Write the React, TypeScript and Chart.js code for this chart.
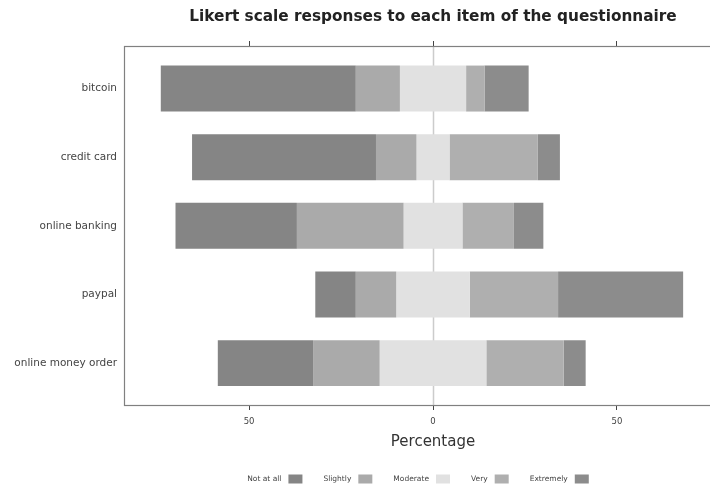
import React, { useEffect, useRef } from "react";
import { Chart, registerables } from "chart.js";

Chart.register(...registerables);

const categories = ["bitcoin", "credit card", "online banking", "paypal", "online money order"];
const levels = ["Not at all", "Slightly", "Moderate", "Very", "Extremely"];
const notAtAll = [53, 50, 33, 11, 26];
const slightly = [12, 11, 29, 11, 18];
const moderate = [18, 9, 16, 20, 29];
const very = [5, 24, 14, 24, 21];
const extremely = [12, 6, 8, 34, 6];
const xTicks = [-50, 0, 50];
const levelColors = ["#858585", "#aaaaaa", "#e1e1e1", "#afafaf", "#8c8c8c"];

const TITLE = "Likert scale responses to each item of the questionnaire";
const XLABEL = "Percentage";
const FONT = "'DejaVu Sans', 'Liberation Sans', sans-serif";

// diverging layout: the "Moderate" block is centred on zero
function buildSegments() {
  const series = [notAtAll, slightly, moderate, very, extremely];
  return series.map((_, li) =>
    categories.map((_, i) => {
      const start = -(moderate[i] / 2 + slightly[i] + notAtAll[i]);
      let s = start;
      for (let k = 0; k < li; k++) s += series[k][i];
      return { x: [s, s + series[li][i]], y: i };
    })
  );
}

const decor = {
  id: "decor",
  beforeDatasetsDraw(chart: any) {
    const { ctx, chartArea } = chart;
    const xs = chart.scales.x;
    const zx = Math.round(xs.getPixelForValue(0)) + 0.5;
    ctx.save();
    ctx.strokeStyle = "#cccccc";
    ctx.lineWidth = 1.5;
    ctx.beginPath();
    ctx.moveTo(zx, chartArea.top);
    ctx.lineTo(zx, chartArea.bottom);
    ctx.stroke();
    ctx.restore();
  },
  afterDraw(chart: any) {
    const { ctx, chartArea } = chart;
    ctx.save();
    ctx.strokeStyle = "#808080";
    ctx.lineWidth = 1.2;
    ctx.strokeRect(chartArea.left + 0.5, chartArea.top + 0.5, chartArea.right - chartArea.left, chartArea.bottom - chartArea.top);
    const cx = (chartArea.left + chartArea.right) / 2;
    ctx.fillStyle = "#222";
    ctx.font = `bold 15.3px ${FONT}`;
    ctx.textAlign = "center";
    ctx.textBaseline = "middle";
    ctx.fillText(TITLE, cx, 17);
    ctx.fillStyle = "#333";
    ctx.font = `15px ${FONT}`;
    ctx.fillText(XLABEL, chart.scales.x.getPixelForValue(0), 442);
    ctx.font = `7.5px ${FONT}`;
    const boxW = 14, boxH = 9, gapText = 7, gapItem = 21;
    const widths = levels.map((l) => ctx.measureText(l).width);
    const total = widths.reduce((a, w) => a + w + gapText + boxW, 0) + gapItem * (levels.length - 1);
    let x = 418 - total / 2;
    const ly = 479;
    ctx.textAlign = "left";
    levels.forEach((l, i) => {
      ctx.fillStyle = "#444";
      ctx.fillText(l, x, ly);
      x += widths[i] + gapText;
      ctx.fillStyle = levelColors[i];
      ctx.fillRect(x, ly - boxH / 2, boxW, boxH);
      x += boxW + gapItem;
    });
    ctx.restore();
  },
};

export default function App() {
  const ref = useRef<HTMLCanvasElement>(null);
  useEffect(() => {
    if (!ref.current) return;
    const segs = buildSegments();
    const chart = new Chart(ref.current, {
      type: "bar",
      data: {
        datasets: levels.map((l, li) => ({
          label: l,
          data: segs[li],
          backgroundColor: levelColors[li],
          borderWidth: 0,
          grouped: false,
        })) as any,
      },
      options: {
        indexAxis: "y",
        responsive: false,
        animation: false,
        events: [],
        layout: { padding: { left: 0, right: 98, top: 0, bottom: 0 } },
        datasets: { bar: { barPercentage: 0.67, categoryPercentage: 1 } } as any,
        plugins: { legend: { display: false }, title: { display: false }, tooltip: { enabled: false } },
        scales: {
          x: {
            type: "linear",
            position: "bottom",
            min: -84,
            max: 84,
            offset: false,
            afterBuildTicks: (s: any) => { s.ticks = xTicks.map((v) => ({ value: v })); },
            afterFit: (s: any) => { s.height = 82; },
            ticks: {
              callback: (v: any) => String(Math.abs(Number(v))),
              font: { family: FONT, size: 8.5 },
              color: "#444",
              padding: 7,
              maxRotation: 0,
            },
            grid: { drawOnChartArea: false, color: "#444", tickColor: "#444", tickLength: 5, lineWidth: 1, offset: false },
            border: { display: false },
          },
          x2: {
            type: "linear",
            position: "top",
            min: -84,
            max: 84,
            offset: false,
            afterBuildTicks: (s: any) => { s.ticks = xTicks.map((v) => ({ value: v })); },
            afterFit: (s: any) => { s.height = 46; },
            ticks: { display: false },
            grid: { drawOnChartArea: false, color: "#444", tickColor: "#444", tickLength: 5, lineWidth: 1, offset: false },
            border: { display: false },
          },
          y: {
            type: "linear",
            reverse: true,
            offset: false,
            min: -0.62,
            max: 4.61,
            afterBuildTicks: (s: any) => { s.ticks = categories.map((_, i) => ({ value: i })); },
            afterFit: (s: any) => { s.width = 124; },
            ticks: {
              callback: (v: any) => categories[Number(v)] ?? "",
              font: { family: FONT, size: 10.5 },
              color: "#444",
              padding: 7,
            },
            grid: { display: false, drawTicks: false, offset: false },
            border: { display: false },
          },
        } as any,
      },
      plugins: [decor],
    });
    return () => chart.destroy();
  }, []);
  return (
    <div style={{ position: "fixed", left: 0, top: 0, width: 710, height: 487, overflow: "hidden", background: "#fff" }}>
      <canvas ref={ref} width={840} height={487} style={{ display: "block" }} />
    </div>
  );
}
